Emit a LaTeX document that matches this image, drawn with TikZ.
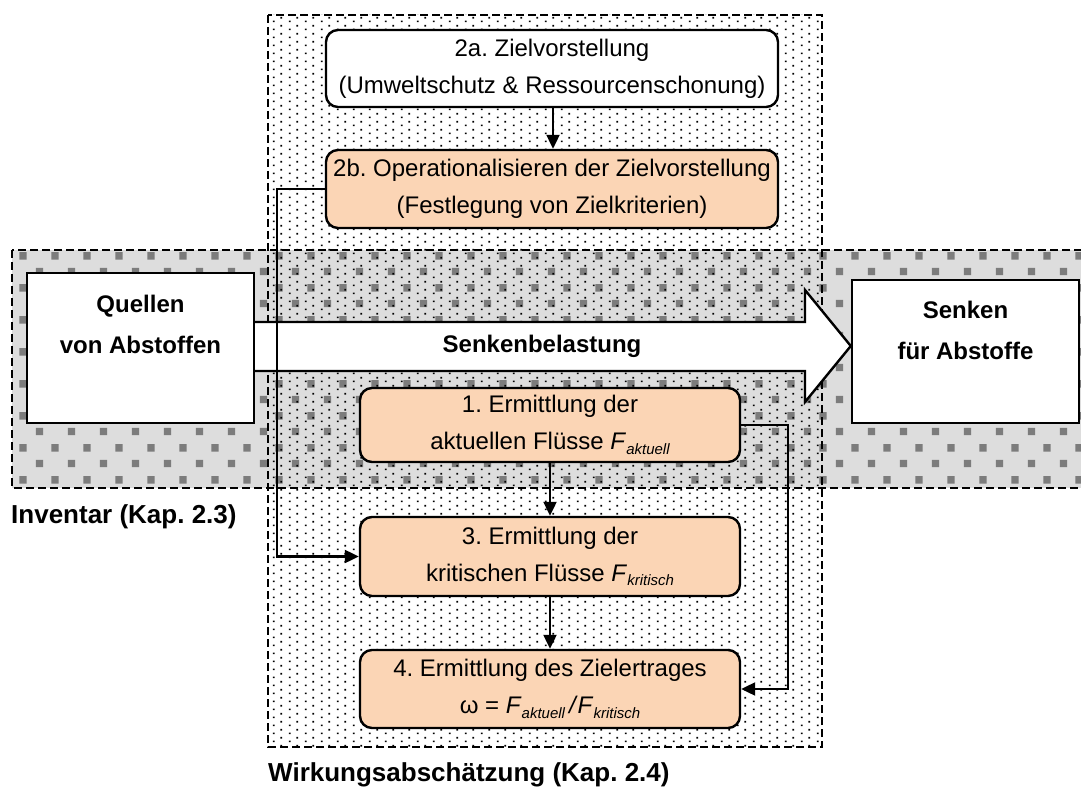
\documentclass[tikz,border=0pt]{standalone}
\usepackage{fontspec}
\setmainfont{Liberation Sans}
\usetikzlibrary{arrows.meta,patterns}
\frenchspacing

% staggered grey squares of the inventory zone
\pgfdeclarepatternformonly{graysq}{\pgfpointorigin}{\pgfpoint{32pt}{32pt}}{\pgfpoint{32pt}{32pt}}{%
  \pgfpathrectangle{\pgfpoint{4pt}{4pt}}{\pgfpoint{7.5pt}{7.5pt}}%
  \pgfpathrectangle{\pgfpoint{20pt}{20pt}}{\pgfpoint{7.5pt}{7.5pt}}%
  \pgfusepath{fill}}
% fine staggered dots of the impact assessment zone
\pgfdeclarepatternformonly{finedots}{\pgfpointorigin}{\pgfpoint{16pt}{8pt}}{\pgfpoint{16pt}{8pt}}{%
  \pgfpathrectangle{\pgfpoint{1pt}{1pt}}{\pgfpoint{1.8pt}{1.8pt}}%
  \pgfpathrectangle{\pgfpoint{9pt}{5pt}}{\pgfpoint{1.8pt}{1.8pt}}%
  \pgfusepath{fill}}

\definecolor{peach}{HTML}{FBD5B5}
\definecolor{zonegray}{HTML}{DDDDDD}
\definecolor{squaregray}{HTML}{7C7C7C}

\newcommand\Fsub[1]{\textit{F}\raisebox{-0.35ex}{\fontsize{15}{15}\selectfont\itshape #1}}

\begin{document}
\begin{tikzpicture}[x=1pt,y=-1pt,
  every node/.style={font=\fontsize{24}{37}\selectfont, inner sep=0pt},
  zone/.style={draw=black, line width=2pt, dash pattern=on 8pt off 4pt},
  stepbox/.style={draw=black, line width=2.4pt, rounded corners=12pt, align=center, fill=peach},
  goalbox/.style={stepbox, fill=white},
  endbox/.style={draw=black, line width=2.4pt, fill=white},
  boldtext/.style={font=\fontsize{24}{41}\selectfont\bfseries, align=center},
  conn/.style={draw=black, line width=2.2pt, -{Triangle[length=14pt,width=13pt]}},
  lbl/.style={font=\fontsize{26}{30}\selectfont\bfseries, anchor=base west}
]
\useasboundingbox (0,0) rectangle (1081,791);

% zones
\begin{scope}
  \clip (0,0) rectangle (1081,791);
  \fill[white] (268,15) rectangle (822,747);
  \fill[zonegray] (12,250) rectangle (1095,488);
  \fill[pattern=graysq, pattern color=squaregray] (12,250) rectangle (1095,488);
  \fill[pattern=finedots, pattern color=black] (268,15) rectangle (822,747);
  \draw[zone] (12,250) rectangle (1095,488);
  \draw[zone] (268,15) rectangle (822,747);
\end{scope}

% sources and sinks
\node[endbox, minimum width=227pt, minimum height=150pt] (src) at (140.5,348) {};
\node[endbox, minimum width=227pt, minimum height=143pt] (snk) at (965.5,351.5) {};

% load arrow from sources to sinks
\coordinate (shaftA) at (src.east |- 0,322);
\coordinate (shaftB) at (src.east |- 0,371);
\coordinate (tip) at (snk.west |- 0,346);
\draw[line width=2.4pt, fill=white, line join=miter]
  (shaftA) -- (805,322) -- (805,290) -- (tip) -- (805,402) -- (805,371) -- (shaftB);
\node[boldtext] (load) at (542,346) {Senkenbelastung};

\node[boldtext] (srctext) at (140.5,324) {Quellen\\von Abstoffen};
\node[boldtext] (snktext) at (965.5,330) {Senken\\für Abstoffe};

% steps
\node[goalbox, minimum width=452pt, minimum height=77pt] (s2a) at (552,68.5)
  {2a. Zielvorstellung\\(Umweltschutz \& Ressourcenschonung)};
\node[stepbox, minimum width=452pt, minimum height=78pt] (s2b) at (552,189)
  {2b. Operationalisieren der Zielvorstellung\\(Festlegung von Zielkriterien)};
\node[stepbox, minimum width=380pt, minimum height=74pt] (s1) at (550,425)
  {1. Ermittlung der\\aktuellen Flüsse \Fsub{aktuell}};
\node[stepbox, minimum width=380pt, minimum height=79pt] (s3) at (550,556.5)
  {3. Ermittlung der\\kritischen Flüsse \Fsub{kritisch}};
\node[stepbox, minimum width=380pt, minimum height=78pt] (s4) at (550,689)
  {4. Ermittlung des Zielertrages\\ω = \Fsub{aktuell}\,\textit{/}\Fsub{kritisch}};

% connectors
\draw[conn] (s2a.south -| 553,0) -- (s2b.north -| 553,0);
\draw[conn] (s1.south) -- (s3.north);
\draw[conn] (s3.south) -- (s4.north);
\draw[conn] (s2b.west) -- ++(-48,0) |- (s3.west);
\draw[conn] (s1.east) -- ++(47,0) |- (s4.east);

% zone labels
\node[lbl] (inv) at (11,523) {Inventar (Kap. 2.3)};
\node[lbl] (wirk) at (268,781) {Wirkungsabschätzung (Kap. 2.4)};
\end{tikzpicture}
\end{document}
